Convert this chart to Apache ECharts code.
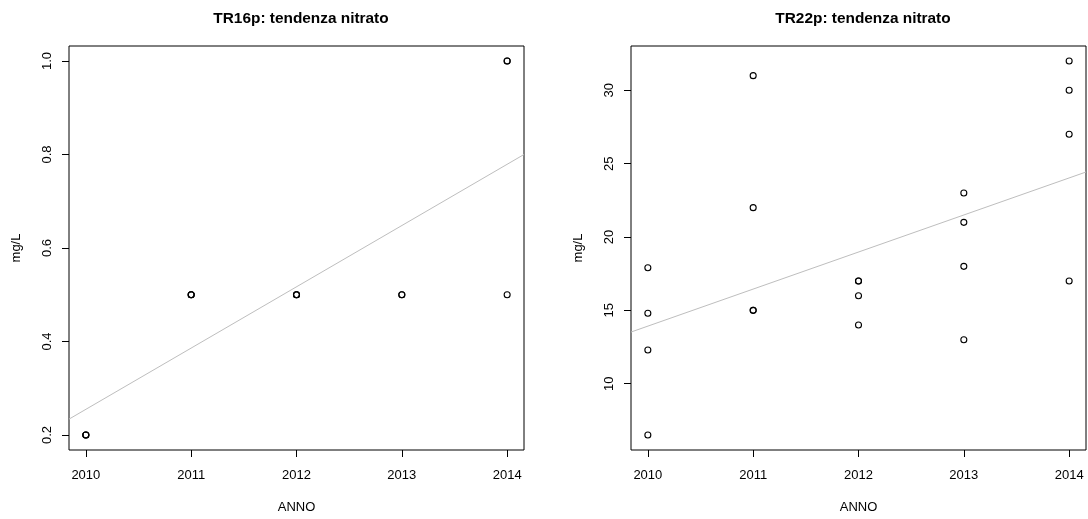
<!DOCTYPE html>
<html>
<head>
<meta charset="utf-8">
<script src="https://cdn.jsdelivr.net/npm/echarts@6/dist/echarts.min.js"></script>
<style>
html,body{margin:0;padding:0;background:#fff;}
#c{width:1088px;height:519px;}
</style>
</head>
<body>
<div id="c"></div>
<script>
// ---- data ----
const years = [2010, 2011, 2012, 2013, 2014];

const titles = ['TR16p: tendenza nitrato', 'TR22p: tendenza nitrato'];

// TR16p samples (year, mg/L); repeated values overlap in the picture
const tr16pAnno    = [2010, 2010, 2010, 2011, 2011, 2011, 2012, 2012, 2012, 2013, 2013, 2014, 2014, 2014];
const tr16pNitrato = [0.2, 0.2, 0.2, 0.5, 0.5, 0.5, 0.5, 0.5, 0.5, 0.5, 0.5, 1.0, 1.0, 0.5];

// TR22p samples
const tr22pAnno    = [2010, 2010, 2010, 2010, 2011, 2011, 2011, 2011, 2012, 2012, 2012, 2012, 2013, 2013, 2013, 2013, 2014, 2014, 2014, 2014];
const tr22pNitrato = [17.9, 14.8, 12.3, 6.5, 31, 22, 15, 15, 17, 17, 16, 14, 23, 21, 18, 13, 32, 30, 27, 17];

// trend lines (value at left / right edge of the plot box)
const trendX = [2009.84, 2014.16];
const tr16pTrend = [0.234, 0.800];
const tr22pTrend = [13.52, 24.43];

// tick labels
const tr16pTicks = [0.2, 0.4, 0.6, 0.8, 1.0];
const tr22pTicks = [10, 15, 20, 25, 30];

// axis ranges
const xRange = [2009.84, 2014.16];
const tr16pRange = [0.168, 1.032];
const tr22pRange = [5.48, 33.02];

// ---- chart ----
const FONT = 'Liberation Sans, Arial, sans-serif';
function pairs(xs, ys) { return xs.map((x, i) => [x, ys[i]]); }

function xAxis(gi) {
  return {
    gridIndex: gi, type: 'value', min: xRange[0], max: xRange[1],
    axisLine: { show: false, onZero: false },
    splitLine: { show: false },
    axisTick: { show: true, customValues: years, length: 7, lineStyle: { color: '#000', width: 1 } },
    axisLabel: { customValues: years, margin: 19, fontSize: 13, color: '#000', fontFamily: FONT,
      formatter: v => String(v) },
    name: 'ANNO', nameLocation: 'middle', nameGap: 51,
    nameTextStyle: { fontSize: 13, color: '#000', fontFamily: FONT }
  };
}
function yAxis(gi, range, ticks, fmt) {
  return {
    gridIndex: gi, type: 'value', min: range[0], max: range[1],
    axisLine: { show: false, onZero: false },
    splitLine: { show: false },
    axisTick: { show: true, customValues: ticks, length: 7, lineStyle: { color: '#000', width: 1 } },
    axisLabel: { customValues: ticks, rotate: 90, margin: 15, fontSize: 13, color: '#000', fontFamily: FONT,
      formatter: fmt },
    name: 'mg/L', nameLocation: 'middle', nameGap: 46,
    nameTextStyle: { fontSize: 13, color: '#000', fontFamily: FONT }
  };
}
function grid(left) {
  return { left: left, top: 46, width: 455, height: 408, show: true,
    borderColor: '#000', borderWidth: 1, backgroundColor: 'transparent', containLabel: false };
}
function scatter(gi, xs, ys) {
  return {
    type: 'scatter', xAxisIndex: gi, yAxisIndex: gi, data: pairs(xs, ys),
    symbol: 'circle', symbolSize: 6,
    itemStyle: { color: 'rgba(255,255,255,0)', borderColor: '#000', borderWidth: 1.1, opacity: 1 },
    emphasis: { disabled: true }, silent: true, z: 3
  };
}
function trend(gi, ys) {
  return {
    type: 'line', xAxisIndex: gi, yAxisIndex: gi, data: pairs(trendX, ys),
    showSymbol: false, symbol: 'none', clip: true,
    lineStyle: { color: '#bebebe', width: 1 }, silent: true, z: 2
  };
}

const chart = echarts.init(document.getElementById('c'), null, { renderer: 'canvas' });
chart.setOption({
  animation: false,
  backgroundColor: '#fff',
  title: [
    { text: titles[0], left: 296, top: 6, textAlign: 'center',
      textStyle: { fontSize: 15.4, fontWeight: 'bold', color: '#000', fontFamily: FONT } },
    { text: titles[1], left: 858, top: 6, textAlign: 'center',
      textStyle: { fontSize: 15.4, fontWeight: 'bold', color: '#000', fontFamily: FONT } }
  ],
  grid: [grid(69), grid(631)],
  xAxis: [xAxis(0), xAxis(1)],
  yAxis: [
    yAxis(0, tr16pRange, tr16pTicks, v => v.toFixed(1)),
    yAxis(1, tr22pRange, tr22pTicks, v => String(v))
  ],
  series: [
    trend(0, tr16pTrend),
    scatter(0, tr16pAnno, tr16pNitrato),
    trend(1, tr22pTrend),
    scatter(1, tr22pAnno, tr22pNitrato)
  ]
});
</script>
</body>
</html>
